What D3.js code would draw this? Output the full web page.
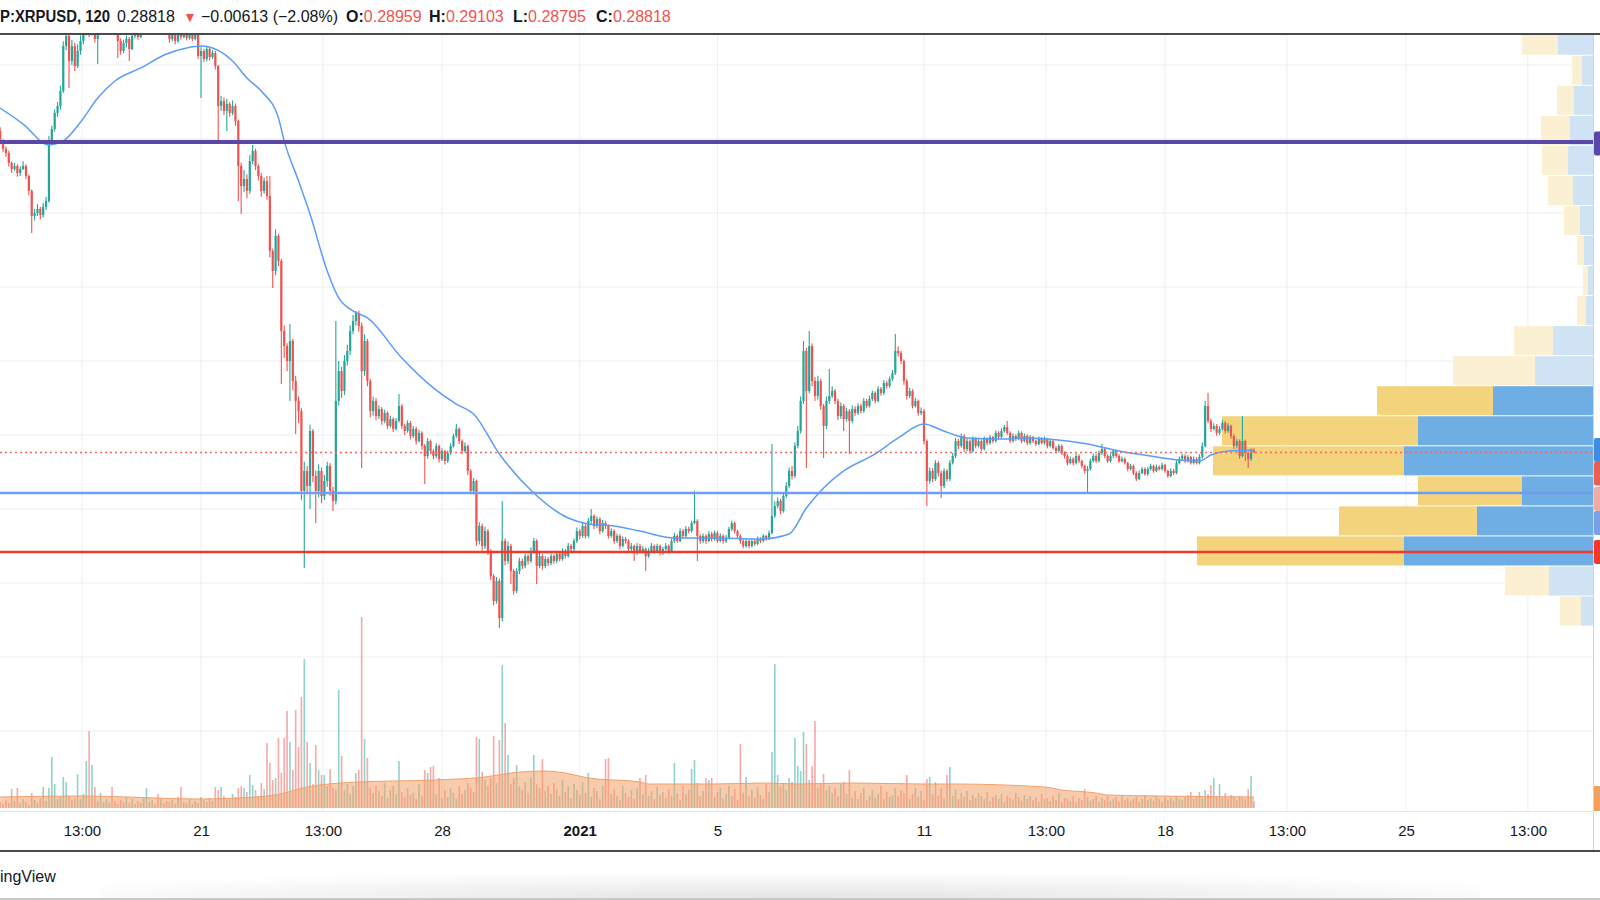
<!DOCTYPE html>
<html lang="en">
<head>
<meta charset="UTF-8">
<title>XRPUSD 120</title>
<script src="https://d3js.org/d3.v7.min.js"></script>
<style>
  body { margin: 0; background: #fff; }
  svg { display: block; font-family: "Liberation Sans", Arial, sans-serif; }
</style>
</head>
<body>
<div id="chart"></div>
<script>
// prices in units of 0.0001, one value per 2h candle (open = previous close)
const firstOpen = 5054;
const closes = [
  4987,4932,4905,4838,4797,4818,4770,4797,4818,4750,4649,4480,
  4500,4527,4487,4541,4581,4987,5068,5176,5223,5324,5628,5696,
  5527,5628,5493,5595,5662,5730,5764,5716,5743,5676,5730,5764,
  5831,5865,5899,5851,5797,5662,5595,5649,5676,5608,5696,5730,
  5689,5743,5797,5865,5933,6000,5966,5899,5933,5865,5764,5676,
  5710,5662,5730,5689,5730,5682,5716,5676,5703,5561,5595,5541,
  5608,5554,5581,5493,5223,5257,5189,5237,5176,5223,5122,4818,
  4682,4730,4649,4851,4919,4818,4750,4649,4716,4615,4243,4108,
  4345,4176,3703,3601,3500,3635,3365,3230,3162,2622,2757,2655,
  3027,2723,2622,2757,2588,2689,2791,2622,2554,3230,3432,3297,
  3500,3568,3703,3770,3824,3737,3432,3635,3365,3162,3230,3128,
  3176,3095,3149,3061,3108,3041,3095,3196,3061,3027,3081,2993,
  3041,2959,3014,2926,2858,2959,2892,2858,2926,2838,2892,2824,
  2878,2926,2993,3041,2959,2892,2926,2757,2622,2689,2284,2385,
  2250,2351,2216,2047,1878,2014,1763,2284,2149,2250,2081,1946,
  2081,2149,2115,2182,2149,2216,2284,2115,2182,2115,2162,2135,
  2182,2149,2196,2162,2216,2182,2250,2230,2284,2351,2318,2385,
  2318,2419,2453,2385,2432,2351,2405,2385,2318,2351,2284,2318,
  2250,2297,2284,2230,2250,2203,2250,2216,2230,2182,2216,2250,
  2216,2250,2203,2230,2250,2216,2284,2318,2284,2351,2318,2365,
  2351,2405,2419,2318,2284,2318,2284,2331,2297,2338,2284,2318,
  2284,2304,2365,2405,2351,2318,2284,2250,2284,2250,2284,2264,
  2297,2284,2318,2297,2338,2453,2520,2554,2486,2588,2655,2757,
  2723,2926,3027,3230,3568,3297,3601,3365,3264,3365,3196,3061,
  3230,3264,3297,3230,3128,3196,3108,3162,3095,3176,3149,3196,
  3162,3230,3196,3243,3284,3230,3311,3284,3351,3331,3378,3419,
  3568,3554,3500,3365,3264,3297,3196,3230,3149,3162,2959,2689,
  2757,2703,2811,2743,2655,2757,2703,2811,2858,2959,2926,2993,
  2905,2959,2892,2973,2926,2959,2905,2973,2946,2986,2959,3014,
  2986,3027,3054,3014,2959,2993,2973,3014,2959,2993,2946,2986,
  2959,2939,2973,2946,2973,2926,2959,2912,2892,2926,2878,2858,
  2811,2838,2811,2858,2824,2791,2757,2770,2824,2858,2824,2878,
  2905,2858,2824,2858,2892,2858,2824,2838,2811,2770,2791,2743,
  2703,2743,2770,2736,2770,2791,2757,2784,2770,2797,2757,2723,
  2757,2743,2811,2838,2858,2824,2851,2811,2838,2811,2851,2926,
  3196,3095,3041,3061,3014,3041,3081,3027,3061,2993,2926,2959,
  2858,2959,2878,2838,2896,2882
];
const highs = [
  5080,5000,4950,4920,4850,4840,4830,4815,4850,4830,4760,4660,
  4525,4560,4540,4570,4610,5020,5090,5200,5250,5360,5660,5760,
  5720,5670,5650,5640,5700,5780,5810,5790,5780,5760,5750,5800,
  5860,5900,5950,5920,5870,5810,5680,5670,5700,5690,5720,5760,
  5750,5770,5830,5890,5960,6050,6020,5980,5960,5950,5880,5780,
  5740,5730,5760,5750,5760,5745,5740,5730,5730,5720,5620,5610,
  5630,5625,5600,5595,5500,5290,5280,5270,5250,5260,5240,5130,
  4840,4790,4760,4890,4960,4935,4830,4770,4740,4750,4750,4260,
  4390,4360,4190,3740,3620,3750,3650,3400,3260,3180,2820,2790,
  3070,3040,2760,2800,2780,2730,2820,2810,2650,3770,3500,3460,
  3540,3610,3740,3810,3838,3840,3760,3680,3650,3380,3260,3250,
  3200,3190,3170,3160,3130,3120,3115,3277,3210,3075,3100,3095,
  3060,3055,3035,3025,2940,2980,2970,2905,2945,2935,2910,2900,
  2895,2945,3010,3074,3050,2970,2950,2935,2770,2710,2700,2410,
  2400,2380,2365,2230,2060,2040,2030,2554,2300,2280,2265,2095,
  2100,2170,2165,2200,2195,2240,2304,2295,2205,2195,2180,2175,
  2200,2195,2215,2210,2235,2230,2270,2265,2300,2375,2365,2405,
  2400,2440,2500,2465,2450,2445,2425,2420,2395,2370,2365,2335,
  2330,2315,2310,2295,2270,2260,2270,2265,2250,2240,2235,2270,
  2260,2265,2260,2245,2270,2260,2300,2340,2330,2370,2365,2385,
  2380,2420,2622,2430,2330,2335,2330,2350,2345,2355,2350,2335,
  2330,2325,2380,2420,2415,2360,2330,2295,2300,2290,2300,2295,
  2315,2310,2330,2325,2355,2939,2550,2580,2570,2610,2680,2780,
  2790,2950,3060,3260,3635,3590,3703,3620,3390,3400,3380,3210,
  3260,3446,3330,3310,3245,3220,3210,3185,3175,3200,3195,3215,
  3210,3250,3245,3265,3300,3295,3330,3325,3370,3365,3395,3440,
  3682,3600,3570,3510,3380,3320,3310,3250,3240,3185,3175,2970,
  2780,2775,2830,2825,2760,2775,2770,2830,2880,2980,2975,3010,
  3005,2975,2970,2990,2985,2975,2970,2990,2985,3000,2995,3030,
  3025,3045,3070,3095,3025,3010,3005,3030,3025,3010,3005,3000,
  2995,2970,2990,2985,2990,2980,2975,2970,2925,2940,2935,2890,
  2870,2855,2850,2875,2870,2835,2800,2790,2840,2875,2870,2895,
  2939,2915,2870,2875,2905,2900,2870,2855,2850,2820,2805,2800,
  2755,2760,2785,2780,2785,2805,2800,2800,2795,2815,2805,2765,
  2775,2770,2830,2855,2875,2870,2865,2860,2855,2850,2870,2950,
  3230,3284,3110,3080,3075,3060,3100,3095,3080,3070,3005,2975,
  2970,3128,2970,2890,2910,2910
];
const lows = [
  4965,4910,4880,4815,4770,4785,4745,4750,4790,4730,4620,4365,
  4450,4480,4460,4470,4520,4570,4960,5050,5150,5200,5310,5600,
  5345,5500,5460,5480,5570,5640,5700,5690,5700,5650,5507,5710,
  5740,5810,5850,5820,5770,5547,5570,5580,5620,5527,5600,5680,
  5670,5680,5730,5780,5850,5920,5940,5870,5880,5840,5740,5650,
  5660,5640,5650,5670,5680,5665,5670,5660,5665,5540,5277,5520,
  5525,5530,5540,5470,4987,5190,5160,5054,5150,5160,5090,4581,
  4493,4640,4600,4630,4830,4790,4720,4610,4630,4590,4200,3993,
  4080,4140,3345,3520,3430,3230,3300,3007,3080,2560,2101,2600,
  2500,2680,2405,2580,2540,2560,2650,2590,2486,2530,3200,3250,
  3270,3470,3540,3680,3740,3700,2777,3400,3330,3120,3130,3100,
  3110,3070,3080,3040,3050,3020,3030,3085,3040,3000,3015,2970,
  2980,2935,2950,2900,2669,2840,2870,2835,2845,2815,2825,2800,
  2810,2865,2915,2980,2940,2870,2880,2730,2600,2600,2250,2260,
  2220,2230,2190,2020,1850,1860,1696,1740,2120,2130,1993,1920,
  1930,2060,2095,2100,2125,2135,2200,1993,2100,2090,2100,2115,
  2120,2130,2135,2145,2150,2165,2170,2210,2215,2270,2295,2305,
  2300,2305,2400,2365,2370,2330,2340,2365,2300,2305,2265,2270,
  2230,2240,2265,2210,2215,2149,2190,2200,2200,2081,2170,2205,
  2200,2205,2185,2190,2220,2200,2205,2270,2270,2275,2300,2305,
  2335,2340,2395,2149,2265,2270,2265,2275,2280,2285,2270,2275,
  2265,2270,2295,2350,2335,2300,2265,2235,2240,2235,2240,2250,
  2255,2270,2275,2285,2290,2330,2440,2505,2465,2475,2575,2640,
  2700,2710,2910,3010,3210,2777,3280,3330,3230,3240,3170,2845,
  3040,3210,3250,3210,3100,3110,3027,3090,2872,3080,3130,3135,
  3145,3150,3180,3185,3230,3215,3220,3265,3270,3315,3320,3365,
  3405,3530,3480,3340,3240,3250,3180,3185,3130,3135,2935,2520,
  2670,2680,2690,2720,2574,2640,2685,2690,2800,2845,2905,2915,
  2885,2890,2875,2880,2910,2915,2890,2895,2930,2935,2945,2950,
  2970,2975,3015,3000,2945,2950,2960,2965,2945,2950,2930,2935,
  2945,2925,2930,2935,2935,2910,2915,2900,2875,2880,2865,2840,
  2795,2800,2795,2800,2810,2775,2740,2608,2760,2815,2810,2815,
  2865,2845,2810,2815,2845,2845,2810,2815,2800,2755,2760,2730,
  2690,2695,2735,2725,2725,2760,2745,2750,2760,2760,2745,2710,
  2715,2730,2735,2800,2830,2810,2815,2800,2800,2800,2800,2840,
  2915,3080,3020,3030,2995,3000,3030,3010,3015,2975,2905,2910,
  2840,2850,2824,2777,2825,2880
];
const volumes = [
  6,4,8,5,19,7,20,5,9,6,3,15,
  8,5,10,21,7,20,51,24,9,11,31,26,
  12,8,10,34,9,14,47,77,43,21,7,15,
  6,9,5,21,7,4,8,6,11,5,9,4,
  7,5,10,20,6,8,4,14,9,5,7,6,
  8,4,11,21,6,5,9,4,7,5,11,8,
  6,10,7,21,18,21,12,8,9,14,11,20,
  22,20,16,33,23,18,12,25,19,65,45,28,
  30,70,35,70,97,66,38,98,61,111,149,66,
  45,24,63,38,33,33,22,39,20,18,118,52,
  18,24,14,22,35,38,191,69,50,20,15,22,
  17,12,25,10,18,22,14,47,16,11,20,13,
  15,9,24,12,38,35,41,42,14,30,10,18,
  11,20,15,9,22,14,18,25,20,16,71,69,
  36,28,22,30,72,25,68,143,85,53,24,30,
  43,22,18,26,15,30,53,24,20,49,17,22,
  14,25,19,12,28,16,22,10,24,18,13,26,
  15,35,11,20,17,9,22,49,50,14,19,12,
  8,22,15,11,18,9,20,30,14,33,12,17,
  9,21,13,16,10,19,12,45,15,8,22,14,
  18,39,48,25,12,17,30,28,30,11,16,20,
  9,14,22,12,19,8,64,15,31,12,18,10,
  21,13,9,24,16,56,144,33,22,25,18,30,
  26,70,42,37,76,64,28,42,87,20,25,34,
  18,22,15,20,12,24,26,14,38,10,17,9,
  15,20,8,12,18,10,14,22,9,16,11,13,
  20,12,18,15,33,9,14,20,11,17,8,29,
  31,14,26,12,20,10,33,41,12,18,9,15,
  11,17,8,13,10,15,12,9,16,7,11,13,
  9,14,6,12,10,8,15,11,7,13,9,12,
  8,11,6,14,9,10,7,12,8,15,6,10,
  9,7,12,6,10,8,19,11,7,9,12,6,
  10,8,13,7,9,11,6,12,8,10,7,9,
  11,6,9,13,8,10,7,12,9,6,11,8,
  10,7,12,9,8,11,13,16,9,12,16,10,
  18,14,23,30,12,24,10,15,9,13,11,8,
  12,10,9,19,32,7
];

// moving average on price, read at candle indices
const maIdx = [0,8,17,22,28,34,40,49,58,65,70,74,81,86,91,97,99,104,108,114,118,123,128,140,151,159,165,174,186,198,205,214,223,235,249,265,275,281,287,294,305,313,322,328,337,349,358,372,379,390,401,411,418,422,428,437];
const maVal = [5209,5101,4960,4987,5114,5277,5392,5480,5574,5615,5628,5615,5527,5412,5324,5142,4987,4716,4493,4108,3926,3838,3791,3520,3318,3209,3142,2872,2608,2439,2399,2385,2351,2304,2304,2297,2331,2507,2642,2757,2872,2980,3074,3034,2980,2973,2980,2959,2939,2892,2858,2831,2824,2865,2892,2899];

// volume moving average
const vmaIdx = [0,29,69,89,96,107,125,151,169,178,189,197,205,223,226,249,267,278,297,322,332,364,370,382,386,404,437];
const vmaVal = [11,12,9,11,13,21,26,28,31,35,37,35,30,26,24,24,25,24,25,24,24,21,18,15,13,12,11];

// visible range volume profile, bottom row first
const vpRowLow = 0.1709;
const vpRowSize = 0.0203;
const vpUp = [12,44,189,116,71,189,175,100,58,40,7,5,9,13,20,25,23,19,11,35];
const vpDown = [21,44,207,138,104,191,196,116,82,39,9,5,7,16,25,26,29,17,10,36];

const levelPrices = [0.498, 0.2608, 0.2209];
const levelColors = ["#5b47a8", "#6d9ef0", "#f0392c"];
const lastPrice = 0.28818;

const tagPrices = [0.497, 0.2899, 0.274, 0.2568, 0.2405, 0.2209];
const tagColors = ["#5b47a8", "#3f8ce2", "#ea5f55", "#f2aaa4", "#7b9fe8", "#f0392c"];

const tickDates = [
  new Date(2020, 11, 17, 13), new Date(2020, 11, 21), new Date(2020, 11, 24, 13),
  new Date(2020, 11, 28), new Date(2021, 0, 1), new Date(2021, 0, 5),
  new Date(2021, 0, 11), new Date(2021, 0, 14, 13), new Date(2021, 0, 18),
  new Date(2021, 0, 21, 13), new Date(2021, 0, 25), new Date(2021, 0, 28, 13)
];
const tickLabels = ["13:00", "21", "13:00", "28", "2021", "5", "11", "13:00", "18", "13:00", "25", "13:00"];

const W = 1600, H = 900;
const plotRight = 1593, plotTop = 35, paneBottom = 811;
const up = "#26a69a", down = "#ef5350";

const t0 = new Date(2020, 11, 15, 4);
const step = 2 * 3600 * 1000;
const barTime = i => new Date(t0.getTime() + i * step);

const n = Math.min(closes.length, highs.length, lows.length, volumes.length);
const bars = [];
for (let i = 0; i < n; i++) {
    const o = i === 0 ? firstOpen : closes[i - 1];
    const c = closes[i];
    bars.push({
        t: barTime(i),
        o: o / 1e4,
        c: c / 1e4,
        h: Math.max(highs[i], o, c) / 1e4,
        l: Math.min(lows[i], o, c) / 1e4,
        v: volumes[i]
    });
}

const x = d3.scaleTime()
    .domain([new Date(2020, 11, 21), new Date(2020, 11, 28)])
    .range([201, 442]);
const y = d3.scaleLinear().domain([0.15, 0.55]).range([657, 65]);
const yVol = d3.scaleLinear().domain([0, 200]).range([808, 608]);
const vpW = d3.scaleLinear().domain([0, 400]).range([0, 400]);

const svg = d3.select("#chart").append("svg")
    .attr("width", W)
    .attr("height", H);

const defs = svg.append("defs");
defs.append("clipPath").attr("id", "plot")
    .append("rect")
    .attr("x", 0).attr("y", plotTop)
    .attr("width", plotRight).attr("height", paneBottom - plotTop);

const shade = defs.append("radialGradient").attr("id", "shade")
    .attr("cx", "50%").attr("cy", "100%").attr("r", "60%");
shade.append("stop").attr("offset", "0%").attr("stop-color", "#e4e4e4");
shade.append("stop").attr("offset", "100%").attr("stop-color", "#ffffff");

// grid
const grid = svg.append("g");
grid.selectAll("line.h")
    .data(d3.range(0.10, 0.551, 0.05))
    .enter().append("line")
    .attr("x1", 0).attr("x2", plotRight)
    .attr("y1", d => y(d)).attr("y2", d => y(d))
    .attr("stroke", "#eceef2").attr("stroke-width", 1);
grid.selectAll("line.v")
    .data(tickDates)
    .enter().append("line")
    .attr("x1", d => x(d)).attr("x2", d => x(d))
    .attr("y1", plotTop).attr("y2", paneBottom)
    .attr("stroke", "#eceef2").attr("stroke-width", 1);

const plot = svg.append("g").attr("clip-path", "url(#plot)");

// volume
plot.append("g").selectAll("rect")
    .data(bars)
    .enter().append("rect")
    .attr("x", d => x(d.t) - 0.8)
    .attr("width", 1.6)
    .attr("y", d => yVol(d.v))
    .attr("height", d => yVol(0) - yVol(d.v))
    .attr("fill", d => d.c >= d.o ? up : down)
    .attr("opacity", 0.5);

const vma = vmaIdx.map((k, i) => ({ t: barTime(k), v: vmaVal[i] }));
plot.append("path")
    .datum(vma)
    .attr("d", d3.area().x(d => x(d.t)).y0(yVol(0)).y1(d => yVol(d.v)).curve(d3.curveMonotoneX))
    .attr("fill", "#f3a06a").attr("opacity", 0.55);
plot.append("path")
    .datum(vma)
    .attr("d", d3.line().x(d => x(d.t)).y(d => yVol(d.v)).curve(d3.curveMonotoneX))
    .attr("fill", "none").attr("stroke", "#f3a06a").attr("stroke-width", 1);

// volume profile value area
const totals = vpUp.map((u, i) => u + vpDown[i]);
const sumAll = d3.sum(totals);
const poc = d3.maxIndex(totals);
let lo = poc, hi = poc, acc = totals[poc];
while (acc < sumAll * 0.7) {
    const a = hi + 1 < totals.length ? totals[hi + 1] : -1;
    const b = lo - 1 >= 0 ? totals[lo - 1] : -1;
    if (a >= b) { hi++; acc += a; } else { lo--; acc += b; }
}
const vpRows = totals.map((t, k) => ({
    top: vpRowLow + vpRowSize * (k + 1),
    bottom: vpRowLow + vpRowSize * k,
    up: vpUp[k],
    down: vpDown[k],
    inVA: k >= lo && k <= hi
}));
const vp = plot.append("g");
vp.selectAll("rect.up")
    .data(vpRows)
    .enter().append("rect")
    .attr("x", d => plotRight - vpW(d.up))
    .attr("width", d => vpW(d.up))
    .attr("y", d => y(d.top) + 0.5)
    .attr("height", d => y(d.bottom) - y(d.top) - 1)
    .attr("fill", d => d.inVA ? "#6eaee5" : "#cfe3f5");
vp.selectAll("rect.down")
    .data(vpRows)
    .enter().append("rect")
    .attr("x", d => plotRight - vpW(d.up) - vpW(d.down))
    .attr("width", d => vpW(d.down))
    .attr("y", d => y(d.top) + 0.5)
    .attr("height", d => y(d.bottom) - y(d.top) - 1)
    .attr("fill", d => d.inVA ? "#f3d37b" : "#fcf0d2");

// candles
const candles = plot.append("g").selectAll("g")
    .data(bars)
    .enter().append("g");
candles.append("line")
    .attr("x1", d => x(d.t)).attr("x2", d => x(d.t))
    .attr("y1", d => y(d.h)).attr("y2", d => y(d.l))
    .attr("stroke", d => d.c >= d.o ? up : down)
    .attr("stroke-width", 1.1);
candles.append("rect")
    .attr("x", d => x(d.t) - 1.1)
    .attr("width", 2.2)
    .attr("y", d => y(Math.max(d.o, d.c)))
    .attr("height", d => Math.max(1, Math.abs(y(d.o) - y(d.c))))
    .attr("fill", d => d.c >= d.o ? up : down);

// moving average
const ma = maIdx.map((k, i) => ({ t: barTime(k), p: maVal[i] / 1e4 }));
plot.append("path")
    .datum(ma)
    .attr("d", d3.line().x(d => x(d.t)).y(d => y(d.p)).curve(d3.curveMonotoneX))
    .attr("fill", "none")
    .attr("stroke", "#5b9cf6")
    .attr("stroke-width", 1.5);

// horizontal levels
plot.selectAll("line.level")
    .data(levelPrices)
    .enter().append("line")
    .attr("x1", 0).attr("x2", plotRight)
    .attr("y1", d => y(d)).attr("y2", d => y(d))
    .attr("stroke", (d, i) => levelColors[i])
    .attr("stroke-width", (d, i) => i === 0 ? 4 : 2.5);

plot.append("line")
    .attr("x1", 0).attr("x2", plotRight)
    .attr("y1", y(lastPrice)).attr("y2", y(lastPrice))
    .attr("stroke", "#f06a60")
    .attr("stroke-width", 1.3)
    .attr("stroke-dasharray", "2,3");

// frame
svg.append("line")
    .attr("x1", plotRight + 0.5).attr("x2", plotRight + 0.5)
    .attr("y1", plotTop).attr("y2", 851)
    .attr("stroke", "#d1d4dc");
svg.append("line")
    .attr("x1", 0).attr("x2", plotRight)
    .attr("y1", paneBottom + 0.5).attr("y2", paneBottom + 0.5)
    .attr("stroke", "#e0e3eb");
svg.append("line")
    .attr("x1", 0).attr("x2", W)
    .attr("y1", 34).attr("y2", 34)
    .attr("stroke", "#4a4a4a").attr("stroke-width", 2);
svg.append("line")
    .attr("x1", 0).attr("x2", W)
    .attr("y1", 851).attr("y2", 851)
    .attr("stroke", "#4a4a4a").attr("stroke-width", 2);

// price-scale tags peeking at the right edge
svg.selectAll("rect.tag")
    .data(tagPrices)
    .enter().append("rect")
    .attr("x", plotRight + 1)
    .attr("width", W - plotRight)
    .attr("y", d => y(d) - 12)
    .attr("height", 24)
    .attr("rx", 2)
    .attr("fill", (d, i) => tagColors[i]);
svg.append("rect")
    .attr("x", plotRight + 1).attr("width", W - plotRight)
    .attr("y", 786).attr("height", 25)
    .attr("fill", "#f3a05c");

// time axis
const axis = svg.append("g")
    .attr("transform", "translate(0," + paneBottom + ")")
    .call(d3.axisBottom(x)
        .tickValues(tickDates)
        .tickFormat((d, i) => tickLabels[i])
        .tickSize(0)
        .tickPadding(14));
axis.select(".domain").remove();
axis.selectAll("text")
    .attr("fill", "#131722")
    .style("font-size", "15px")
    .style("font-family", "\"Liberation Sans\", Arial, sans-serif")
    .style("font-weight", (d, i) => tickLabels[i] === "2021" ? "bold" : "normal");

// header
const header = svg.append("text")
    .attr("y", 22)
    .style("font-size", "16px")
    .attr("fill", "#131722");
header.append("tspan").attr("x", 0)
    .attr("textLength", 110).attr("lengthAdjust", "spacingAndGlyphs")
    .style("font-weight", "bold").text("P:XRPUSD, 120");
header.append("tspan").attr("x", 117).text("0.28818");
header.append("tspan").attr("x", 183).attr("fill", down).style("font-size", "14px").text("▼");
header.append("tspan").attr("x", 201).text("\u22120.00613 (\u22122.08%)");
const ohlc = [["O:", "0.28959", 346], ["H:", "0.29103", 429], ["L:", "0.28795", 513], ["C:", "0.28818", 596]];
ohlc.forEach(p => {
    header.append("tspan").attr("x", p[2]).style("font-weight", "bold").text(p[0]);
    header.append("tspan").attr("fill", down).text(p[1]);
});

// footer
svg.append("rect")
    .attr("x", 100).attr("y", 853)
    .attr("width", 1380).attr("height", 45)
    .attr("fill", "url(#shade)");
svg.append("line")
    .attr("x1", 0).attr("x2", W)
    .attr("y1", 899).attr("y2", 899)
    .attr("stroke", "#c8c8c8").attr("stroke-width", 2);
svg.append("text")
    .attr("x", 0).attr("y", 882)
    .style("font-size", "16px")
    .attr("fill", "#131722")
    .text("ingView");
</script>
</body>
</html>
